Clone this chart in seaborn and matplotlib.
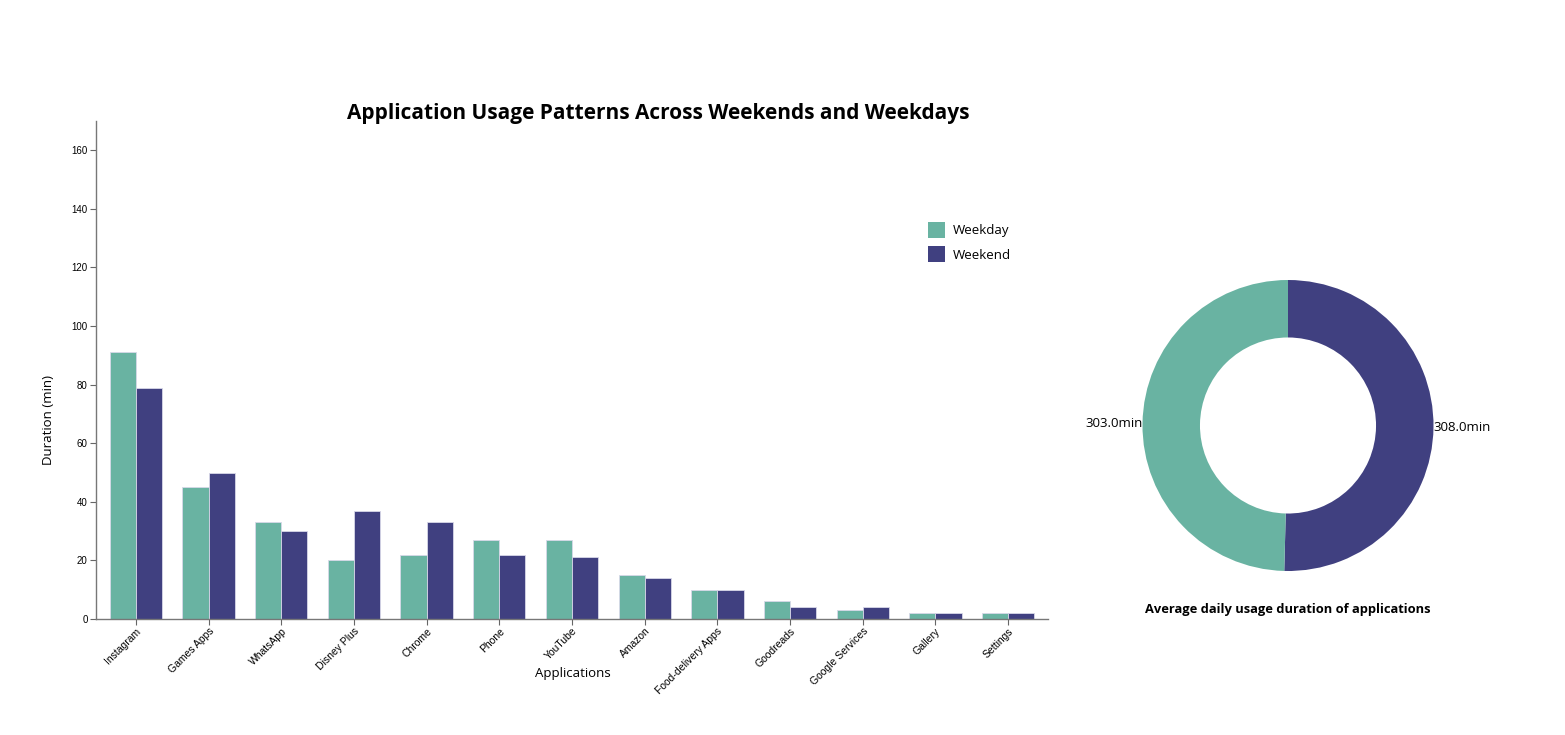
import matplotlib
matplotlib.use("Agg")
import matplotlib.pyplot as plt
import seaborn as sns
import pandas as pd
from matplotlib.patches import Patch

apps = ["Instagram", "Games Apps", "WhatsApp", "Disney Plus", "Chrome", "Phone",
        "YouTube", "Amazon", "Food-delivery Apps", "Goodreads", "Google Services",
        "Gallery", "Settings"]
weekday = [91, 45, 33, 20, 22, 27, 27, 15, 10, 6, 3, 2, 2]
weekend = [79, 50, 30, 37, 33, 22, 21, 14, 10, 4, 4, 2, 2]
series = ["Weekday", "Weekend"]
colors = ["#69b3a2", "#404080"]

df = pd.DataFrame({
    "Applications": apps * 2,
    "Duration": weekday + weekend,
    "Type": ["Weekday"] * len(apps) + ["Weekend"] * len(apps),
})

sns.set_theme(style="white")
plt.rcParams["font.family"] = ["Open Sans", "DejaVu Sans"]
plt.rcParams["text.color"] = "black"
plt.rcParams["axes.labelcolor"] = "black"
plt.rcParams["xtick.color"] = "black"
plt.rcParams["ytick.color"] = "black"

W, H = 1565, 735
fig = plt.figure(figsize=(W / 100, H / 100), dpi=100)

# bar axes
x0, x1, ytop, ybot = 96, 1048, 121, 619
ax = fig.add_axes([x0 / W, 1 - ybot / H, (x1 - x0) / W, (ybot - ytop) / H])
sns.barplot(data=df, x="Applications", y="Duration", hue="Type",
            palette=dict(zip(series, colors)), hue_order=series, saturation=1,
            width=0.72, ax=ax, edgecolor="#d8d8e8", linewidth=0.6, legend=False)
ax.set_ylim(0, 170)
ax.set_xlim(-0.55, len(apps) - 0.45)
ax.set_yticks(range(0, 161, 20))
ax.tick_params(axis="y", labelsize=7, length=4, width=0.8, color="#666666", pad=2, left=True)
ax.tick_params(axis="x", labelsize=7.5, length=4, width=0.8, color="#666666", pad=1, bottom=True)
for lbl in ax.get_yticklabels():
    lbl.set_fontfamily(["Liberation Sans", "DejaVu Sans"])
for lbl in ax.get_xticklabels():
    lbl.set_rotation(45)
    lbl.set_ha("right")
    lbl.set_rotation_mode("anchor")
    lbl.set_fontfamily(["Liberation Sans", "DejaVu Sans"])
for s in ["top", "right"]:
    ax.spines[s].set_visible(False)
for s in ["left", "bottom"]:
    ax.spines[s].set_color("#777777")
    ax.spines[s].set_linewidth(1.0)
ax.set_xlabel("Applications", fontsize=9.5)
ax.xaxis.set_label_coords((573 - x0) / (x1 - x0), -(667 - ybot) / (ybot - ytop))
ax.set_ylabel("Duration (min)", fontsize=9.5)
ax.yaxis.set_label_coords(-(96 - 55) / (x1 - x0), (ybot - 420) / (ybot - ytop))

fig.text(658 / W, 1 - 113 / H, "Application Usage Patterns Across Weekends and Weekdays",
         ha="center", va="center", fontsize=15, fontweight="bold")

# legend
handles = [Patch(facecolor=c, edgecolor="none") for c in colors]
leg = fig.legend(handles, series, loc="upper left",
                 bbox_to_anchor=(921 / W, 1 - 215 / H), frameon=False,
                 fontsize=9.5, handlelength=1.3, handleheight=1.5,
                 handletextpad=0.6, labelspacing=0.65, borderpad=0)

# donut
cx, cy, r = 1288, 425.5, 145.5
pax = fig.add_axes([(cx - r) / W, 1 - (cy + r) / H, 2 * r / W, 2 * r / H])
totals = [sum(weekend), sum(weekday)]
labels = [f"{float(t):.1f}min" for t in totals]
pax.pie(totals, colors=[colors[1], colors[0]], startangle=90, counterclock=False,
        labels=labels, labeldistance=1.0, radius=1.0,
        wedgeprops=dict(width=0.395, edgecolor="none"),
        textprops=dict(fontsize=9.5))
pax.set_xlim(-1, 1)
pax.set_ylim(-1, 1)
pax.set_aspect("equal")
pax.axis("off")

fig.text(cx / W, 1 - 609 / H, "Average daily usage duration of applications",
         ha="center", va="center", fontsize=9.3, fontweight="bold")

fig.savefig("out.png", dpi=100, facecolor="white")
